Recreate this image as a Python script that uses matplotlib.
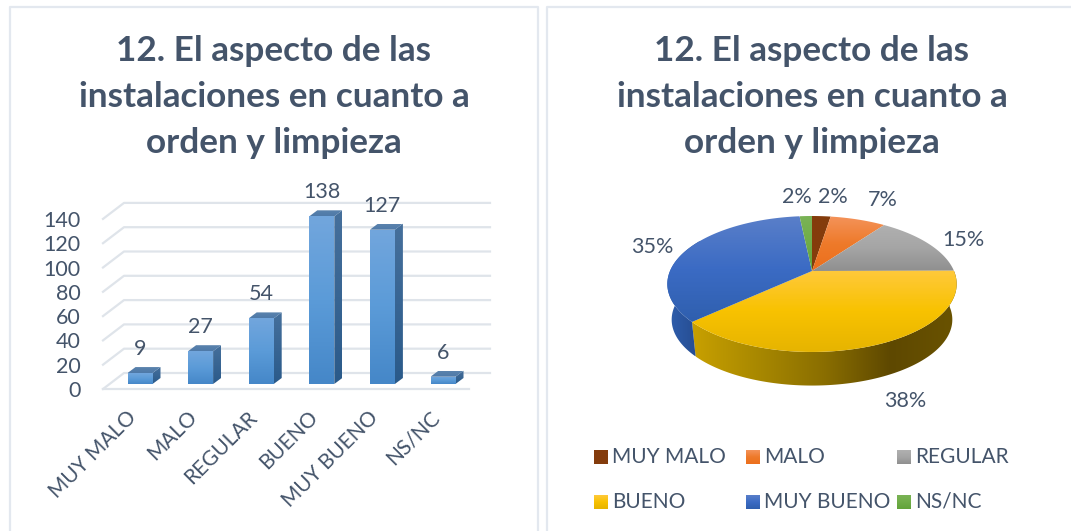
import numpy as np
import matplotlib
matplotlib.use("Agg")
import matplotlib.pyplot as plt
from matplotlib.colors import LinearSegmentedColormap
from matplotlib.patches import Polygon
from matplotlib.transforms import ScaledTranslation

categories = ['MUY MALO', 'MALO', 'REGULAR', 'BUENO', 'MUY BUENO', 'NS/NC']
values = [9, 27, 54, 138, 127, 6]
y_ticks = [0, 20, 40, 60, 80, 100, 120, 140]
title = '12. El aspecto de las\ninstalaciones en cuanto a\norden y limpieza'

pie_colors = [
    ['#843c0c', '#843c0c'],
    ['#f4935a', '#ee7a2a', '#ec6f1c'],
    ['#b0b0b0', '#a5a5a5', '#8f8f8f'],
    ['#ffc93c', '#f8c200', '#e6b400'],
    ['#5a7fc9', '#3b6bc4', '#2f5fae'],
    ['#7ab356', '#70ad47', '#62a33a'],
]
# where the percent labels sit, in pixels
pct_pos = [(833, 197), (883, 200), (963, 240), (905, 401), (652, 247), (797, 197)]

W, H = 1071, 531
TEXT = '#44546a'
GRID = '#dfe4ea'
plt.rcParams['font.family'] = ['Lato', 'DejaVu Sans']


def px_axes(fig, left, top, right, bottom):
    ax = fig.add_axes([left / W, 1 - bottom / H, (right - left) / W, (bottom - top) / H])
    ax.patch.set_alpha(0)
    return ax


# polygon filled with a gradient, colors go top to bottom (or left to right)
def grad_fill(ax, verts, colors, horizontal=False, zorder=2):
    verts = np.array(verts)
    poly = Polygon(verts, closed=True, fc='none', ec='none', transform=ax.transData)
    ax.add_patch(poly)
    cmap = LinearSegmentedColormap.from_list('g', colors)
    ramp = np.linspace(0, 1, 256)
    data = ramp[None, :] if horizontal else ramp[::-1, None]
    extent = (verts[:, 0].min(), verts[:, 0].max(), verts[:, 1].min(), verts[:, 1].max())
    im = ax.imshow(data, extent=extent, origin='lower', aspect='auto', cmap=cmap,
                   vmin=0, vmax=1, zorder=zorder, interpolation='bilinear')
    im.set_clip_path(poly)
    poly.set_zorder(zorder)


fig = plt.figure(figsize=(W / 100, H / 100), dpi=100)

# background: cards, titles, legend
bg = px_axes(fig, 0, 0, W, H)
bg.set_xlim(0, W)
bg.set_ylim(0, H)
bg.axis('off')
bg.plot([9.5, 9.5, 538, 538], [0, H - 6.5, H - 6.5, 0], color='#e3e8ef', lw=1.6)
bg.plot([547, 547, W], [0, H - 6.5, H - 6.5], color='#e3e8ef', lw=1.6)
for cx in (274, 812):
    bg.text(cx, H - 97, title, ha='center', va='center', color=TEXT, fontsize=25.3,
            fontweight='bold', linespacing=1.54)

leg_x = [594, 746, 897]
leg_y = [457, 502]
for i, name in enumerate(categories):
    x0 = leg_x[i % 3]
    y0 = H - leg_y[i // 3]
    grad_fill(bg, [(x0, y0 - 7), (x0 + 14, y0 - 7), (x0 + 14, y0 + 7), (x0, y0 + 7)], pie_colors[i])
    bg.text(x0 + 18.5, y0, name, ha='left', va='center', color=TEXT, fontsize=15)
bg.set_xlim(0, W)
bg.set_ylim(0, H)

# 3d bars, axes run past 140 so the tallest bar is not cut
y_top = 170
ax = px_axes(fig, 103, 389 - y_top * 1.215, 469, 389)
step = 60.6
x_min, x_max = (103 - 140) / step, (469 - 140) / step
wall_dx, wall_dy = 21 / step, 16 / 1.215
bar_w = 25 / step
side_dx, side_dy = 8 / step, 6 / 1.215
floor = 5 / 1.215

for v in y_ticks:
    ax.plot([x_min, x_min + wall_dx, x_max + wall_dx], [v, v + wall_dy, v + wall_dy],
            color=GRID, lw=1.6, clip_on=False, zorder=1)
ax.plot([x_min, x_max], [0, 0], color=GRID, lw=1.6, clip_on=False, zorder=1)

for i, v in enumerate(values):
    l, r = i - bar_w / 2, i + bar_w / 2
    b, t = floor, floor + v
    grad_fill(ax, [(r, b), (r + side_dx, b + side_dy), (r + side_dx, t + side_dy), (r, t)],
              ['#46709c', '#2a5a8a'], zorder=3)
    grad_fill(ax, [(l, t), (r, t), (r + side_dx, t + side_dy), (l + side_dx, t + side_dy)],
              ['#5a82ad', '#4f7aa8'], zorder=3)
    grad_fill(ax, [(l, b), (r, b), (r, t), (l, t)], ['#72a6dd', '#5b9bd8', '#4587c8'], zorder=4)
    ax.text(i, t + side_dy + 6.5, str(v), ha='center', va='bottom', color=TEXT, fontsize=15.5,
            clip_on=False, zorder=5)

ax.set_xlim(x_min, x_max)
ax.set_ylim(0, y_top)
ax.set_yticks(y_ticks)
ax.set_xticks(range(len(categories)))
ax.set_xticklabels(categories, rotation=45, ha='right', va='top', rotation_mode='anchor')
ax.tick_params(axis='y', length=0, labelsize=15.5, labelcolor=TEXT, pad=16)
ax.tick_params(axis='x', length=0, labelsize=15, labelcolor=TEXT, pad=13)
shift = ScaledTranslation(-14 / 100, 0, fig.dpi_scale_trans)
for lab in ax.get_xticklabels():
    lab.set_transform(lab.get_transform() + shift)
for s in ax.spines.values():
    s.set_visible(False)

# 3d pie, the rim is a circle seen in perspective
pie = px_axes(fig, 812 - 170, 271 - 79, 812 + 170, 271 + 131)
RX, RY, K = 142, 65.5, 0.191


def rim(theta):
    u, v = np.sin(theta), np.cos(theta)
    return u / (1 + K * v), v / (1 + K * v)


edges = np.cumsum([0] + values) / sum(values) * 2 * np.pi
total = sum(values)

sides = [(3, edges[3], edges[4], ['#c8a000', '#a88800', '#8a6e00', '#5e4800', '#6a5300']),
         (4, edges[4], np.radians(300), ['#2f5fae', '#24498c'])]
for idx, a0, a1, cols in sides:
    th = np.linspace(a0, a1, 120)
    X, Y = rim(th)
    lower = np.column_stack([X * 0.97, Y * 0.97 - 0.55])
    grad_fill(pie, np.vstack([np.column_stack([X, Y]), lower[::-1]]), cols, horizontal=True, zorder=2)

for i in range(len(values)):
    th = np.linspace(edges[i], edges[i + 1], 80)
    X, Y = rim(th)
    verts = np.vstack([[0, 0], np.column_stack([X, Y])])
    grad_fill(pie, verts, pie_colors[i], zorder=3)

pie.set_xlim(-170 / RX, 170 / RX)
pie.set_ylim(-131 / RY, 79 / RY)
pie.axis('off')

for i, v in enumerate(values):
    px, py = pct_pos[i]
    bg.text(px, H - py, f'{v / total * 100:.0f}%', ha='center', va='center', color=TEXT, fontsize=15.5)

fig.savefig('out.png', dpi=100)
